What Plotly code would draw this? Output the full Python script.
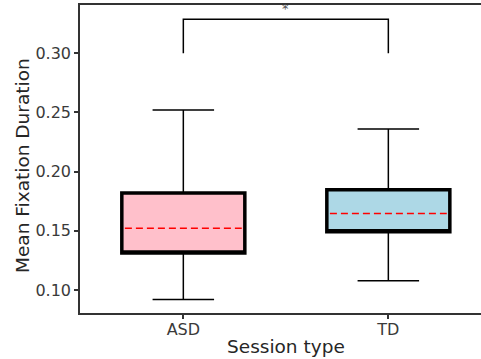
import plotly.graph_objects as go

categories = ["ASD", "TD"]
positions = [0, 1]
q1 = [0.1312, 0.1492]
median = [0.1523, 0.1647]
q3 = [0.1820, 0.1848]
lower_fence = [0.0921, 0.1079]
upper_fence = [0.2522, 0.2360]
fill_colors = ["pink", "lightblue"]

bracket_base = 0.300
bracket_top = 0.3287
star_y = 0.3375
star_label = "*"
x_title = "Session type"
y_title = "Mean Fixation Duration"

box_w = 0.6
font_family = "DejaVu Sans"

fig = go.Figure()

# whiskers (thin)
fig.add_trace(go.Box(
    x=positions, q1=q1, median=median, q3=q3,
    lowerfence=lower_fence, upperfence=upper_fence,
    width=box_w, whiskerwidth=0.5,
    line=dict(color="black", width=1.5),
    fillcolor="rgba(0,0,0,0)", boxpoints=False, showlegend=False,
    hoverinfo="skip",
))

# filled boxes with thick borders
for i, cat in enumerate(categories):
    fig.add_trace(go.Box(
        x=[positions[i]], q1=[q1[i]], median=[q1[i]], q3=[q3[i]],
        lowerfence=[q1[i]], upperfence=[q3[i]],
        width=box_w, whiskerwidth=0,
        line=dict(color="black", width=3.5),
        fillcolor=fill_colors[i], boxpoints=False, showlegend=False,
        name=cat,
    ))

# red dashed medians
for i in range(len(categories)):
    fig.add_trace(go.Scatter(
        x=[positions[i] - box_w / 2 + 0.015, positions[i] + box_w / 2 - 0.015],
        y=[median[i], median[i]],
        mode="lines",
        line=dict(color="red", width=1.5, dash="7px,4px"),
        showlegend=False, hoverinfo="skip",
    ))

# significance bracket
fig.add_trace(go.Scatter(
    x=[positions[0], positions[0], positions[1], positions[1]],
    y=[bracket_base, bracket_top, bracket_top, bracket_base],
    mode="lines", line=dict(color="black", width=1.5),
    showlegend=False, hoverinfo="skip",
))

fig.add_annotation(
    x=(positions[0] + positions[1]) / 2, y=star_y, text=star_label,
    showarrow=False, font=dict(family=font_family, size=13, color="#555555"),
)

# x-axis title (centred on the full, partly cropped, panel)
fig.add_annotation(
    xref="paper", yref="paper", x=0.514, y=0, yshift=-33,
    xanchor="center", yanchor="middle", text=x_title, showarrow=False,
    font=dict(family=font_family, size=18.5, color="#262626"),
)

# y-axis title
fig.add_annotation(
    xref="paper", yref="paper", x=0, y=0.5, xshift=-58, yshift=-7,
    xanchor="center", yanchor="middle", text=y_title, textangle=-90,
    showarrow=False,
    font=dict(family=font_family, size=18.5, color="#262626"),
)

fig.update_layout(
    width=481, height=359,
    margin=dict(l=80, r=0, t=5, b=46),
    plot_bgcolor="white", paper_bgcolor="white",
    boxmode="overlay",
    font=dict(family=font_family),
)

fig.update_xaxes(
    range=[-0.504, 1.452],
    tickmode="array", tickvals=positions, ticktext=categories,
    showline=True, linecolor="#333333", linewidth=1.5, mirror=True,
    ticks="outside", ticklen=4, tickcolor="#333333", tickwidth=1.5,
    showgrid=False, zeroline=False, ticklabelstandoff=-3,
    tickfont=dict(family=font_family, size=16, color="#3a3a3a"),
)
fig.update_yaxes(
    range=[0.0806, 0.3408],
    tickvals=[0.10, 0.15, 0.20, 0.25, 0.30], tickformat=".2f",
    showline=True, linecolor="#333333", linewidth=1.5, mirror=False,
    ticks="outside", ticklen=4, tickcolor="#333333", tickwidth=1.5,
    showgrid=False, zeroline=False,
    tickfont=dict(family=font_family, size=16, color="#3a3a3a"),
)

fig.write_html("out.html")
